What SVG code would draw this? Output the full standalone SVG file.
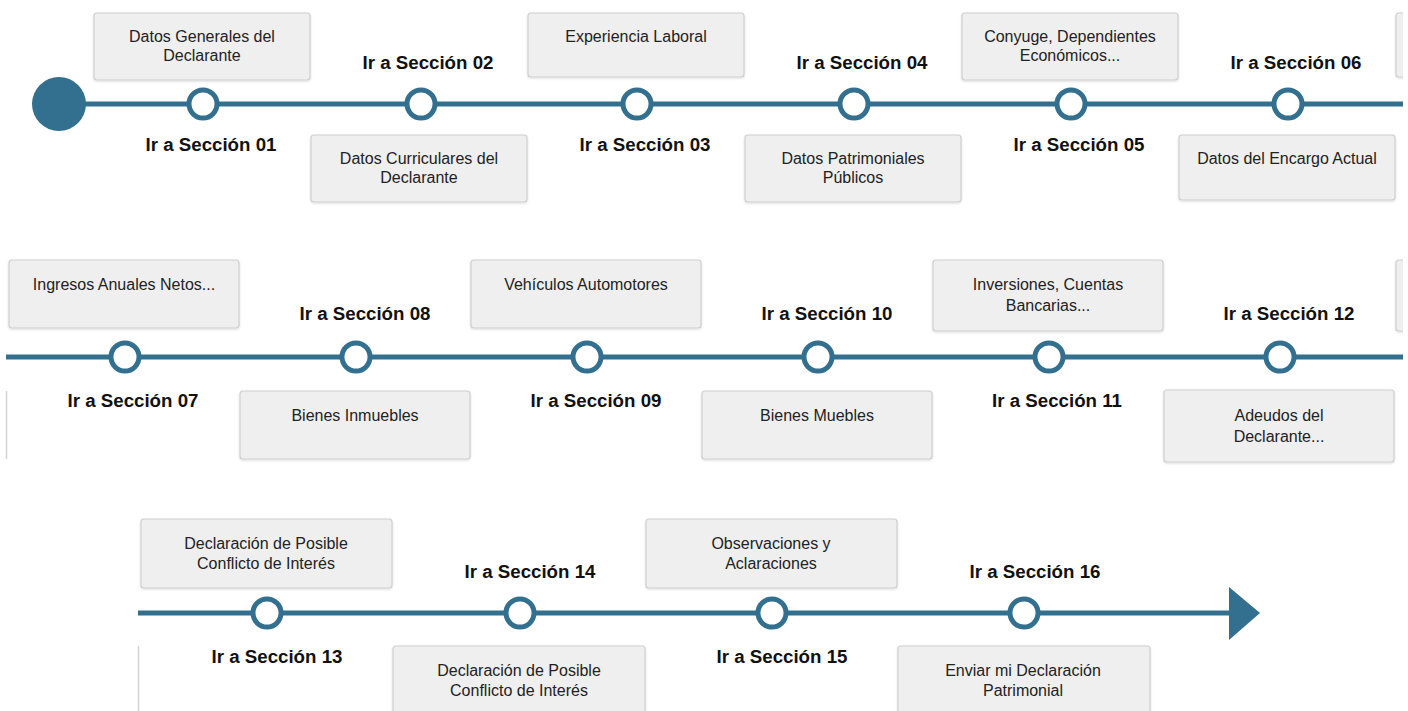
<svg xmlns="http://www.w3.org/2000/svg" width="1408" height="711" viewBox="0 0 1408 711">
<style>
.box{fill:#efefef;stroke:#cfcfcf;stroke-width:1.2}
.bt{font-family:"Liberation Sans",Arial,sans-serif;font-size:16px;fill:#222;text-anchor:middle}
.lb{font-family:"Liberation Sans",Arial,sans-serif;font-size:18.7px;font-weight:bold;fill:#111;text-anchor:middle}
.ln{stroke:#336f8e;stroke-width:5;fill:none}
.nd{fill:#fff;stroke:#336f8e;stroke-width:5}
.edge{stroke:#d3d3d3;stroke-width:1.5}
</style>
<defs>
<filter id="sh" x="-5%" y="-5%" width="110%" height="115%"><feDropShadow dx="0" dy="1" stdDeviation="0.8" flood-color="#000" flood-opacity="0.15"/></filter>
<clipPath id="cl"><rect x="0" y="0" width="1403" height="711"/></clipPath>
</defs>
<g id="connectors" clip-path="url(#cl)">
<line class="ln" x1="59" y1="104" x2="1408" y2="104"/>
<line class="ln" x1="6" y1="357" x2="1408" y2="357"/>
<line class="ln" x1="138" y1="613" x2="1232" y2="613"/>
<polygon points="1229,587 1260,613 1229,640" fill="#336f8e"/>
</g>
<g id="start"><circle cx="59" cy="104" r="27" fill="#336f8e"/></g>
<g id="partials">
<g clip-path="url(#cl)">
<rect class="box" filter="url(#sh)" x="1396" y="13" width="40" height="64" rx="3"/>
<rect class="box" filter="url(#sh)" x="1396" y="260" width="40" height="71" rx="3"/>
</g>
<line class="edge" x1="6.5" y1="391" x2="6.5" y2="459"/>
<line class="edge" x1="138.5" y1="646" x2="138.5" y2="711"/>
</g>
<g id="s01"><rect class="box" filter="url(#sh)" x="94" y="13" width="216" height="67" rx="3"/><text class="bt" x="202" y="42">Datos Generales del</text><text class="bt" x="202" y="61">Declarante</text><circle class="nd" cx="203" cy="104" r="14"/><text class="lb" x="211" y="151">Ir a Sección 01</text></g>
<g id="s02"><rect class="box" filter="url(#sh)" x="311" y="135" width="216" height="67" rx="3"/><text class="bt" x="419" y="164">Datos Curriculares del</text><text class="bt" x="419" y="183">Declarante</text><circle class="nd" cx="421" cy="104" r="14"/><text class="lb" x="428" y="69">Ir a Sección 02</text></g>
<g id="s03"><rect class="box" filter="url(#sh)" x="528" y="13" width="216" height="64" rx="3"/><text class="bt" x="636" y="42">Experiencia Laboral</text><circle class="nd" cx="637" cy="104" r="14"/><text class="lb" x="645" y="151">Ir a Sección 03</text></g>
<g id="s04"><rect class="box" filter="url(#sh)" x="745" y="135" width="216" height="67" rx="3"/><text class="bt" x="853" y="164">Datos Patrimoniales</text><text class="bt" x="853" y="183">Públicos</text><circle class="nd" cx="854" cy="104" r="14"/><text class="lb" x="862" y="69">Ir a Sección 04</text></g>
<g id="s05"><rect class="box" filter="url(#sh)" x="962" y="13" width="216" height="67" rx="3"/><text class="bt" x="1070" y="42">Conyuge, Dependientes</text><text class="bt" x="1070" y="61">Económicos...</text><circle class="nd" cx="1071" cy="104" r="14"/><text class="lb" x="1079" y="151">Ir a Sección 05</text></g>
<g id="s06"><rect class="box" filter="url(#sh)" x="1179" y="135" width="216" height="65" rx="3"/><text class="bt" x="1287" y="164">Datos del Encargo Actual</text><circle class="nd" cx="1288" cy="104" r="14"/><text class="lb" x="1296" y="69">Ir a Sección 06</text></g>
<g id="s07"><rect class="box" filter="url(#sh)" x="9" y="260" width="230" height="68" rx="3"/><text class="bt" x="124" y="290">Ingresos Anuales Netos...</text><circle class="nd" cx="125" cy="357" r="14"/><text class="lb" x="133" y="407">Ir a Sección 07</text></g>
<g id="s08"><rect class="box" filter="url(#sh)" x="240" y="391" width="230" height="68" rx="3"/><text class="bt" x="355" y="421">Bienes Inmuebles</text><circle class="nd" cx="356" cy="357" r="14"/><text class="lb" x="365" y="320">Ir a Sección 08</text></g>
<g id="s09"><rect class="box" filter="url(#sh)" x="471" y="260" width="230" height="68" rx="3"/><text class="bt" x="586" y="290">Vehículos Automotores</text><circle class="nd" cx="587" cy="357" r="14"/><text class="lb" x="596" y="407">Ir a Sección 09</text></g>
<g id="s10"><rect class="box" filter="url(#sh)" x="702" y="391" width="230" height="68" rx="3"/><text class="bt" x="817" y="421">Bienes Muebles</text><circle class="nd" cx="818" cy="357" r="14"/><text class="lb" x="827" y="320">Ir a Sección 10</text></g>
<g id="s11"><rect class="box" filter="url(#sh)" x="933" y="260" width="230" height="71" rx="3"/><text class="bt" x="1048" y="290">Inversiones, Cuentas</text><text class="bt" x="1048" y="311">Bancarias...</text><circle class="nd" cx="1049" cy="357" r="14"/><text class="lb" x="1057" y="407">Ir a Sección 11</text></g>
<g id="s12"><rect class="box" filter="url(#sh)" x="1164" y="390" width="230" height="72" rx="3"/><text class="bt" x="1279" y="421">Adeudos del</text><text class="bt" x="1279" y="442">Declarante...</text><circle class="nd" cx="1280" cy="357" r="14"/><text class="lb" x="1289" y="320">Ir a Sección 12</text></g>
<g id="s13"><rect class="box" filter="url(#sh)" x="141" y="519" width="251" height="69" rx="3"/><text class="bt" x="266" y="549">Declaración de Posible</text><text class="bt" x="266" y="569">Conflicto de Interés</text><circle class="nd" cx="267" cy="613" r="14"/><text class="lb" x="277" y="663">Ir a Sección 13</text></g>
<g id="s14"><rect class="box" filter="url(#sh)" x="393" y="646" width="252" height="80" rx="3"/><text class="bt" x="519" y="676">Declaración de Posible</text><text class="bt" x="519" y="696">Conflicto de Interés</text><circle class="nd" cx="520" cy="613" r="14"/><text class="lb" x="530" y="578">Ir a Sección 14</text></g>
<g id="s15"><rect class="box" filter="url(#sh)" x="646" y="519" width="251" height="69" rx="3"/><text class="bt" x="771" y="549">Observaciones y</text><text class="bt" x="771" y="569">Aclaraciones</text><circle class="nd" cx="772" cy="613" r="14"/><text class="lb" x="782" y="663">Ir a Sección 15</text></g>
<g id="s16"><rect class="box" filter="url(#sh)" x="898" y="646" width="252" height="80" rx="3"/><text class="bt" x="1023" y="676">Enviar mi Declaración</text><text class="bt" x="1023" y="696">Patrimonial</text><circle class="nd" cx="1024" cy="613" r="14"/><text class="lb" x="1035" y="578">Ir a Sección 16</text></g>
</svg>
